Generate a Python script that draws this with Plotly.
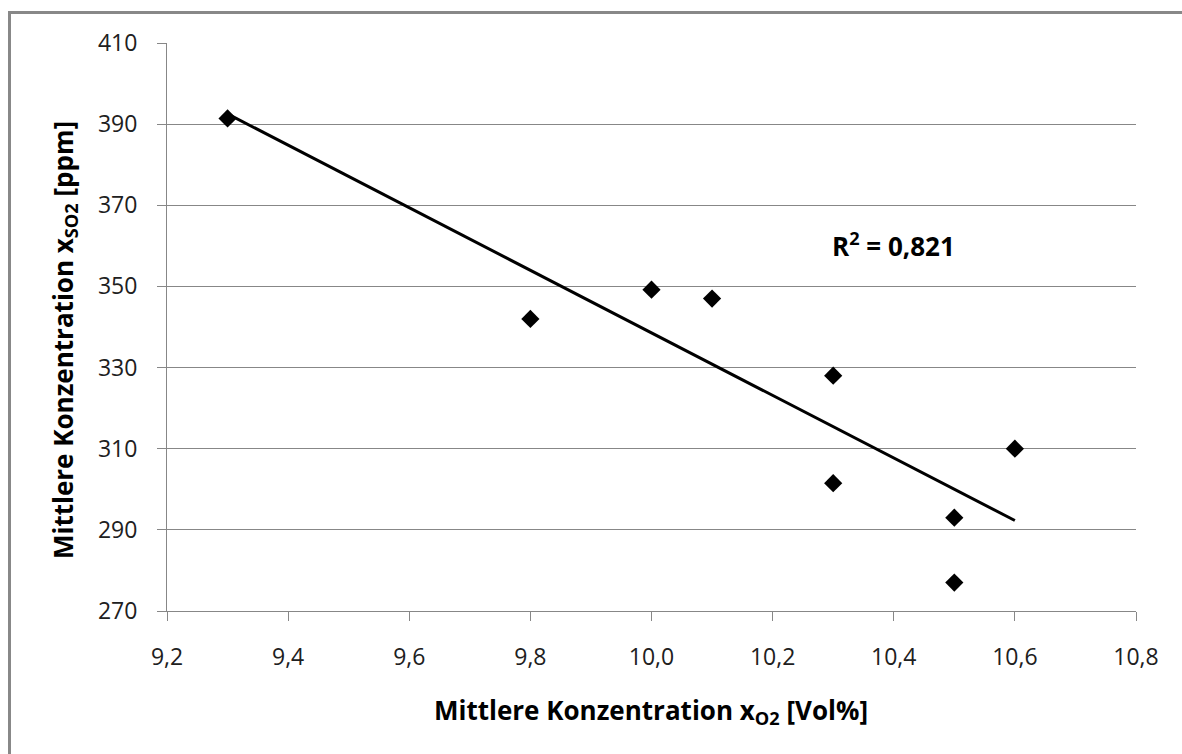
import numpy as np
import plotly.graph_objects as go

# Data
x_o2 = [9.3, 9.8, 10.0, 10.1, 10.3, 10.3, 10.5, 10.5, 10.6]
y_so2 = [391.4, 342.0, 349.2, 347.0, 328.0, 301.5, 293.0, 277.0, 310.0]
x_ticks = [9.2, 9.4, 9.6, 9.8, 10.0, 10.2, 10.4, 10.6, 10.8]
y_ticks = [270, 290, 310, 330, 350, 370, 390, 410]
r2_text = "R<sup>2</sup> = 0,821"
x_title = "Mittlere Konzentration x<sub>O2</sub> [Vol%]"
y_title = "Mittlere Konzentration x<sub>SO2</sub> [ppm]"

# Linear trendline (least squares), drawn over the data range
slope, intercept = np.polyfit(x_o2, y_so2, 1)
trend_x = [min(x_o2), max(x_o2)]
trend_y = [slope * v + intercept for v in trend_x]

FONT = "Open Sans"
GRID = "#878787"

fig = go.Figure()
fig.add_trace(go.Scatter(
    x=trend_x, y=trend_y, mode="lines",
    line=dict(color="black", width=3), hoverinfo="skip", showlegend=False,
))
fig.add_trace(go.Scatter(
    x=x_o2, y=y_so2, mode="markers",
    marker=dict(symbol="diamond", size=14, color="black"),
    showlegend=False,
))

W, H = 1182, 754
L, R, T, B = 167, 46, 43, 143
pw, ph = W - L - R, H - T - B


def px(xp):
    return (xp - L) / pw


def py(yp):
    return (H - B - yp) / ph


fig.update_layout(
    width=W, height=H,
    margin=dict(l=L, r=R, t=T, b=B, pad=0),
    paper_bgcolor="white", plot_bgcolor="white",
    separators=",.",
    font=dict(family=FONT, color="black"),
    xaxis=dict(
        range=[9.2, 10.8], tickvals=x_ticks, tickformat=".1f",
        showgrid=False, zeroline=False,
        showline=True, linecolor=GRID, linewidth=1,
        ticks="outside", ticklen=9, tickcolor=GRID, tickwidth=1,
        tickfont=dict(family=FONT, size=23, color="#202020"),
        ticklabelstandoff=16,
    ),
    yaxis=dict(
        range=[270, 410], tickvals=y_ticks,
        showgrid=True, gridcolor=GRID, gridwidth=1, zeroline=False,
        showline=True, linecolor=GRID, linewidth=1,
        ticks="outside", ticklen=9, tickcolor=GRID, tickwidth=1,
        tickfont=dict(family=FONT, size=23, color="#202020"),
        ticklabelstandoff=15,
    ),
    annotations=[
        dict(text=x_title, xref="paper", yref="paper", x=px(651), y=py(711),
             showarrow=False, xanchor="center", yanchor="middle",
             font=dict(family=FONT, size=26, color="black", weight="bold")),
        dict(text=y_title, xref="paper", yref="paper", x=px(64), y=py(340),
             showarrow=False, xanchor="center", yanchor="middle", textangle=-90,
             font=dict(family=FONT, size=26, color="black", weight="bold")),
        dict(text=r2_text, xref="x", yref="y", x=10.4, y=360.2,
             showarrow=False, xanchor="center", yanchor="middle",
             font=dict(family=FONT, size=26, color="black", weight="bold")),
    ],
    shapes=[
        dict(type="rect", xref="paper", yref="paper",
             x0=px(9.5), x1=px(1195), y0=py(768), y1=py(12.5),
             line=dict(color="#888888", width=3), layer="below"),
    ],
)

fig.write_html("out.html")
